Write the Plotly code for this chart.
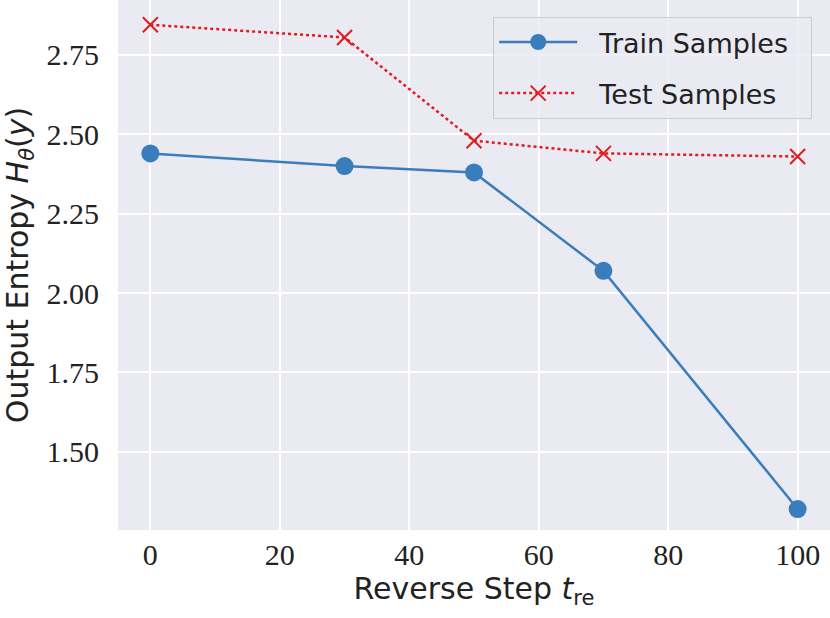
import plotly.graph_objects as go

steps = [0, 30, 50, 70, 100]
train_entropy = [2.44, 2.40, 2.38, 2.07, 1.32]
test_entropy = [2.845, 2.805, 2.48, 2.44, 2.43]

x_ticks = [0, 20, 40, 60, 80, 100]
y_ticks = [1.50, 1.75, 2.00, 2.25, 2.50, 2.75]

blue = '#3a7dbc'
red = '#e41a1c'
bg = '#eaeaf2'
ink = '#222222'
pad = '\u00a0\u00a0'

fig = go.Figure()
fig.add_trace(go.Scatter(
    x=steps, y=train_entropy, name=pad + 'Train Samples' + pad,
    legendgroup='train',
    mode='lines+markers',
    line=dict(color=blue, width=2.5),
    marker=dict(symbol='circle', size=18, color=blue),
))
fig.add_trace(go.Scatter(
    x=steps, y=test_entropy, name=pad + 'Test Samples' + pad,
    legendgroup='test',
    mode='lines+markers',
    line=dict(color=red, width=2.5, dash='dot'),
    marker=dict(symbol='x-thin', size=15, color=red, line=dict(color=red, width=2)),
))

fig.update_layout(
    width=830, height=618,
    margin=dict(l=118, r=0, t=0, b=88),
    paper_bgcolor='white',
    plot_bgcolor=bg,
    font=dict(family='DejaVu Sans', color=ink),
    legend=dict(
        x=0.975, y=0.968, xanchor='right', yanchor='top',
        bgcolor='rgba(234,234,242,0.8)', bordercolor='#cccccc', borderwidth=1,
        font=dict(family='DejaVu Sans', size=27, color=ink),
        itemwidth=78, tracegroupgap=13,
    ),
    xaxis=dict(
        range=[-5, 105], tickvals=x_ticks,
        ticktext=[str(v) for v in x_ticks],
        showgrid=True, gridcolor='white', gridwidth=1.5,
        zeroline=False, showline=False, ticks='', automargin=False,
        ticklabelstandoff=4,
        tickfont=dict(family='Liberation Serif', size=30, color=ink),
        title=dict(text='Reverse Step <i>t</i><sub>re</sub>',
                   font=dict(family='DejaVu Sans', size=30, color=ink),
                   standoff=6),
    ),
    yaxis=dict(
        range=[1.254, 2.923], tickvals=y_ticks,
        ticktext=['%.2f' % v for v in y_ticks],
        showgrid=True, gridcolor='white', gridwidth=1.5,
        zeroline=False, showline=False, ticks='', automargin=False,
        ticklabelstandoff=18,
        tickfont=dict(family='Liberation Serif', size=30, color=ink),
        title=dict(text='Output Entropy <i>H</i><sub><i>θ</i></sub>(<i>y</i>)',
                   font=dict(family='DejaVu Sans', size=30, color=ink),
                   standoff=10),
    ),
)

# drop the page's default 8px body margin so the figure sits at the corner
fig.write_html('out.html', config={'displayModeBar': False},
               post_script="document.body.style.margin='0';")
